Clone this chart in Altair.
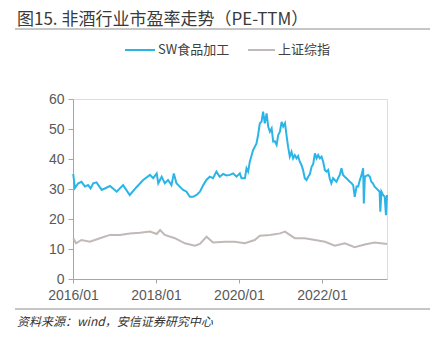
import altair as alt
import pandas as pd

# SW食品加工 PE-TTM
blue_dates = ["2016-01-03", "2016-01-18", "2016-02-16", "2016-03-16", "2016-04-15", "2016-05-13",
              "2016-06-04", "2016-06-27", "2016-07-26", "2016-09-10", "2016-11-22", "2017-01-20",
              "2017-03-17", "2017-05-15", "2017-07-13", "2017-09-10", "2017-11-09", "2017-12-07",
              "2018-01-07", "2018-01-21", "2018-02-20", "2018-03-19", "2018-04-17", "2018-05-17",
              "2018-06-07", "2018-06-30", "2018-07-29", "2018-08-28", "2018-09-27", "2018-10-26",
              "2018-11-24", "2018-12-24", "2019-01-23", "2019-02-21", "2019-03-21", "2019-04-19",
              "2019-05-18", "2019-06-17", "2019-07-16", "2019-08-15", "2019-09-14", "2019-10-13",
              "2019-11-11", "2019-12-11", "2020-01-09", "2020-01-24", "2020-02-23", "2020-03-08",
              "2020-03-22", "2020-04-06", "2020-05-05", "2020-06-04", "2020-06-18", "2020-07-03",
              "2020-07-18", "2020-08-01", "2020-08-16", "2020-09-01", "2020-09-15", "2020-09-30",
              "2020-10-15", "2020-10-29", "2020-11-13", "2020-11-28", "2020-12-12", "2020-12-27",
              "2021-01-11", "2021-01-25", "2021-02-10", "2021-02-25", "2021-03-09", "2021-03-24",
              "2021-04-08", "2021-04-22", "2021-05-07", "2021-05-22", "2021-06-05", "2021-06-20",
              "2021-07-05", "2021-07-19", "2021-08-03", "2021-08-18", "2021-09-02", "2021-09-17",
              "2021-10-02", "2021-10-16", "2021-10-31", "2021-11-15", "2021-11-29", "2021-12-14",
              "2021-12-29", "2022-01-12", "2022-01-27", "2022-02-11", "2022-02-25", "2022-03-10",
              "2022-03-25", "2022-04-09", "2022-04-24", "2022-05-09", "2022-05-23", "2022-06-07",
              "2022-06-22", "2022-07-06", "2022-07-21", "2022-08-05", "2022-08-19", "2022-09-04",
              "2022-09-19", "2022-10-03", "2022-10-17", "2022-11-02", "2022-11-16", "2022-12-01",
              "2022-12-16", "2022-12-30", "2023-01-05", "2023-01-14", "2023-02-12", "2023-02-27",
              "2023-03-12", "2023-03-26", "2023-04-10", "2023-04-25", "2023-05-09", "2023-05-24",
              "2023-05-30", "2023-06-09", "2023-06-23", "2023-07-08", "2023-07-19", "2023-07-28"]
blue_values = [35.0, 30.3, 31.9, 32.4, 30.8, 31.3,
               30.2, 31.9, 32.2, 29.7, 31.0, 29.1,
               31.3, 28.0, 30.6, 33.0, 34.7, 33.6,
               35.2, 31.9, 34.1, 31.9, 33.0, 31.3,
               35.2, 31.9, 30.8, 29.7, 29.1, 27.4,
               27.4, 28.0, 29.1, 31.3, 33.0, 34.1,
               33.6, 35.8, 34.1, 35.0, 34.5, 34.7,
               35.2, 34.1, 35.2, 33.6, 33.6, 36.9,
               35.8, 39.1, 43.0, 45.2, 48.0, 51.9,
               52.4, 55.8, 51.9, 55.2, 50.8, 49.1,
               50.2, 45.8, 45.9, 44.7, 48.0, 49.1,
               52.4, 50.8, 51.9, 47.4, 44.1, 40.8,
               42.4, 40.2, 41.3, 40.2, 41.0, 39.1,
               38.0, 36.3, 33.6, 33.0, 34.1, 35.0,
               37.4, 38.3, 41.9, 40.2, 41.3, 40.2,
               40.8, 39.1, 36.3, 35.8, 36.3, 33.6,
               31.9, 33.6, 33.0, 32.4, 33.6, 34.7,
               36.9, 34.7, 34.1, 33.6, 33.0, 32.4,
               31.9, 31.3, 27.4, 30.8, 30.8, 33.0,
               34.7, 36.9, 25.2, 34.1, 34.7, 34.1,
               32.4, 31.9, 30.8, 30.2, 29.7, 29.1,
               22.4, 29.1, 28.0, 27.4, 21.3, 28.0]

# 上证综指 PE-TTM
gray_dates = ["2016-01-04", "2016-01-27", "2016-03-16", "2016-05-28", "2016-08-25", "2016-11-22",
              "2017-02-18", "2017-05-15", "2017-08-12", "2017-11-09", "2018-01-07", "2018-02-06",
              "2018-03-19", "2018-06-16", "2018-09-12", "2018-12-09", "2019-01-22", "2019-03-22",
              "2019-05-18", "2019-09-01", "2019-11-25", "2020-02-22", "2020-05-19", "2020-07-03",
              "2020-10-01", "2020-12-28", "2021-02-10", "2021-03-24", "2021-05-07", "2021-08-03",
              "2021-11-01", "2022-01-28", "2022-04-25", "2022-07-22", "2022-10-16", "2023-01-13",
              "2023-04-10", "2023-07-28"]
gray_values = [13.6, 11.9, 13.0, 12.4, 13.6, 14.7,
               14.7, 15.2, 15.4, 15.8, 15.0, 16.3,
               14.7, 13.6, 11.9, 11.1, 11.7, 14.1,
               12.2, 12.4, 12.4, 11.9, 13.0, 14.4,
               14.7, 15.2, 15.8, 14.7, 13.6, 13.6,
               13.0, 12.4, 11.1, 11.9, 10.6, 11.5,
               12.2, 11.7]

series_names = ["SW食品加工", "上证综指"]
series_colors = ["#2BB4E6", "#C1B9B7"]
x_tick_years = [2016, 2018, 2020, 2022]
y_ticks = [0, 10, 20, 30, 40, 50, 60]
title_text = "图15. 非酒行业市盈率走势（PE-TTM）"
source_text = "资料来源：wind，安信证券研究中心"

df = pd.concat([
    pd.DataFrame({"date": blue_dates, "value": blue_values, "series": series_names[0]}),
    pd.DataFrame({"date": gray_dates, "value": gray_values, "series": series_names[1]}),
])

W, H = 314, 180
axis_color = "#A6A6A6"
label_color = "#595959"
label_font = "Liberation Sans"
cjk = "Noto Sans CJK SC"

lines = alt.Chart(df).mark_line(strokeWidth=2).encode(
    x=alt.X("date:T",
            scale=alt.Scale(type="utc", domain=[alt.DateTime(year=2016, month=1, date=1, utc=True),
                                                alt.DateTime(year=2023, month=7, date=28, utc=True)]),
            axis=alt.Axis(title=None, grid=False, format="%Y/%m", labelFlush=False,
                          values=[alt.DateTime(year=y, month=1, date=1, utc=True) for y in x_tick_years],
                          domainColor=axis_color, tickColor=axis_color, tickSize=4,
                          labelColor=label_color, labelFont=label_font, labelFontSize=14,
                          labelPadding=5)),
    y=alt.Y("value:Q",
            scale=alt.Scale(domain=[0, 60], nice=False),
            axis=alt.Axis(title=None, grid=False, values=y_ticks,
                          domainColor=axis_color, tickColor=axis_color, tickSize=5,
                          labelColor=label_color, labelFont=label_font, labelFontSize=14,
                          labelPadding=4)),
    color=alt.Color("series:N", scale=alt.Scale(domain=series_names, range=series_colors), legend=None),
)

one = pd.DataFrame({"a": [0]})
base = alt.Chart(one)

title = base.mark_text(text=title_text, align="left", baseline="alphabetic", fontSize=17,
                       font=cjk, color="#3A3A3A").encode(x=alt.value(-56), y=alt.value(-74))
top_rule = base.mark_rule(color="#8C8C8C", strokeWidth=1).encode(
    x=alt.value(-58), x2=alt.value(357), y=alt.value(-70))
bottom_rule = base.mark_rule(color="#8C8C8C", strokeWidth=1).encode(
    x=alt.value(-58), x2=alt.value(357), y=alt.value(210))
source = base.mark_text(text=source_text, align="left", baseline="middle", fontSize=12,
                        font=cjk, fontStyle="italic", color="#333333").encode(
    x=alt.value(-56), y=alt.value(223))

leg_b = base.mark_rule(color=series_colors[0], strokeWidth=2).encode(
    x=alt.value(52), x2=alt.value(82), y=alt.value(-49))
leg_g = base.mark_rule(color=series_colors[1], strokeWidth=2).encode(
    x=alt.value(175), x2=alt.value(202), y=alt.value(-49))
leg_bt = base.mark_text(text=series_names[0], align="left", baseline="middle", fontSize=13,
                        font=cjk, color="#404040").encode(x=alt.value(85), y=alt.value(-49))
leg_gt = base.mark_text(text=series_names[1], align="left", baseline="middle", fontSize=13,
                        font=cjk, color="#404040").encode(x=alt.value(205), y=alt.value(-49))

chart = alt.layer(lines, title, top_rule, bottom_rule, source, leg_b, leg_g, leg_bt, leg_gt).properties(
    width=W, height=H,
    autosize=alt.AutoSizeParams(type="none"),
    padding={"left": 73, "top": 99, "right": 49, "bottom": 60},
).configure_view(stroke=None).configure(background="white")

chart.save("out.html", embed_options={"renderer": "svg", "actions": False})
